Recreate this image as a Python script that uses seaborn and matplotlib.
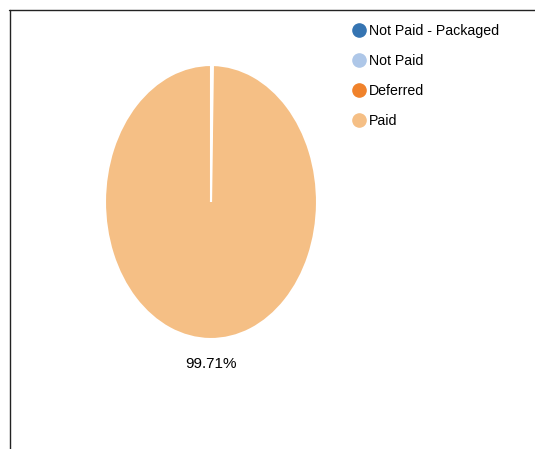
import matplotlib
matplotlib.use("Agg")
import matplotlib.pyplot as plt
from matplotlib.lines import Line2D
import seaborn as sns

categories = ["Not Paid - Packaged", "Not Paid", "Deferred", "Paid"]
values = [0.0, 0.29, 0.0, 99.71]
colors = ["#3574b2", "#aec7e8", "#f0822b", "#f5bf85"]
shown_label = "99.71%"

sns.set_theme(style="white")
plt.rcParams["font.family"] = ["Liberation Sans", "DejaVu Sans"]

W, H = 535, 449
fig = plt.figure(figsize=(W / 100, H / 100), dpi=100)
fig.patch.set_facecolor("white")

cx, cy, rx, ry = 211, 202, 106, 137
ax = fig.add_axes([(cx - rx) / W, (H - cy - ry) / H, 2 * rx / W, 2 * ry / H])
wedges, _ = ax.pie(values, colors=colors, startangle=90, counterclock=False,
                   wedgeprops=dict(edgecolor="white", linewidth=1.5))
ax.set_aspect("auto")
ax.set_xlim(-1, 1)
ax.set_ylim(-1, 1)
ax.axis("off")
ax.text(0, -1.18, shown_label, ha="center", va="center", fontsize=11, color="#000000")

handles = [Line2D([], [], marker="o", linestyle="none", markersize=9.5,
                  markerfacecolor=c, markeredgecolor=c) for c in colors]
leg = fig.legend(handles, categories, loc="upper left",
                 bbox_to_anchor=(352 / W, 1 - 24 / H), frameon=False,
                 fontsize=10.2, labelspacing=1.12, handletextpad=0.12,
                 handlelength=1.05, borderaxespad=0, borderpad=0)
for t in leg.get_texts():
    t.set_color("#000000")

fig.add_artist(Line2D([9 / W, 1], [1 - 9.5 / H, 1 - 9.5 / H], color="#222222", lw=1, transform=fig.transFigure))
fig.add_artist(Line2D([9.5 / W, 9.5 / W], [0, 1 - 9.5 / H], color="#222222", lw=1, transform=fig.transFigure))

fig.savefig("out.png", dpi=100)
